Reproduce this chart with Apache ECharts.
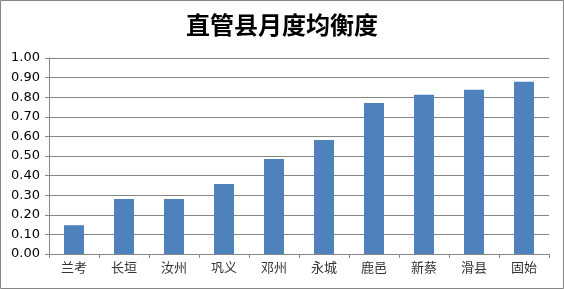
<!DOCTYPE html>
<html>
<head>
<meta charset="utf-8">
<script src="https://cdn.jsdelivr.net/npm/echarts@6/dist/echarts.min.js"></script>
<style>
html,body{margin:0;padding:0;background:#fff;}
#c{width:564px;height:289px;}
</style>
</head>
<body>
<div id="c"></div>
<script>
var titleText = '直管县月度均衡度';
var categories = ['兰考','长垣','汝州','巩义','邓州','永城','鹿邑','新蔡','滑县','固始'];
var values = [0.147, 0.28, 0.28, 0.357, 0.485, 0.582, 0.771, 0.812, 0.838, 0.879];
var yMin = 0, yMax = 1, yStep = 0.1;

var chart = echarts.init(document.getElementById('c'), null, {renderer:'canvas'});
chart.setOption({
  animation:false,
  backgroundColor:'#ffffff',
  title:{
    text:titleText, left:'center', top:8,
    textStyle:{fontFamily:'"Noto Sans CJK SC"', fontSize:24, fontWeight:'bold', color:'#000'}
  },
  grid:{left:49, right:15, top:58, bottom:35},
  xAxis:{
    type:'category', data:categories,
    axisLine:{lineStyle:{color:'#868686', width:1}},
    axisTick:{show:true, length:4, lineStyle:{color:'#868686'}},
    axisLabel:{fontFamily:'"Noto Sans CJK SC"', fontSize:13, color:'#333', margin:7}
  },
  yAxis:{
    type:'value', min:yMin, max:yMax, interval:yStep,
    axisLine:{show:true, lineStyle:{color:'#868686', width:1}},
    axisTick:{show:true, length:4, lineStyle:{color:'#868686'}},
    splitLine:{show:true, lineStyle:{color:'#868686', width:1}},
    axisLabel:{fontFamily:'"DejaVu Sans"', fontSize:13, color:'#000', margin:9,
      formatter:function(v){return v.toFixed(2);}}
  },
  series:[{
    type:'bar', data:values, barWidth:20,
    itemStyle:{color:'#4f81bd'}
  }],
  graphic:[{
    type:'rect', shape:{x:0.5,y:0.5,width:563,height:288},
    style:{fill:null, stroke:'#868686', lineWidth:1}, silent:true
  }]
});
</script>
</body>
</html>
